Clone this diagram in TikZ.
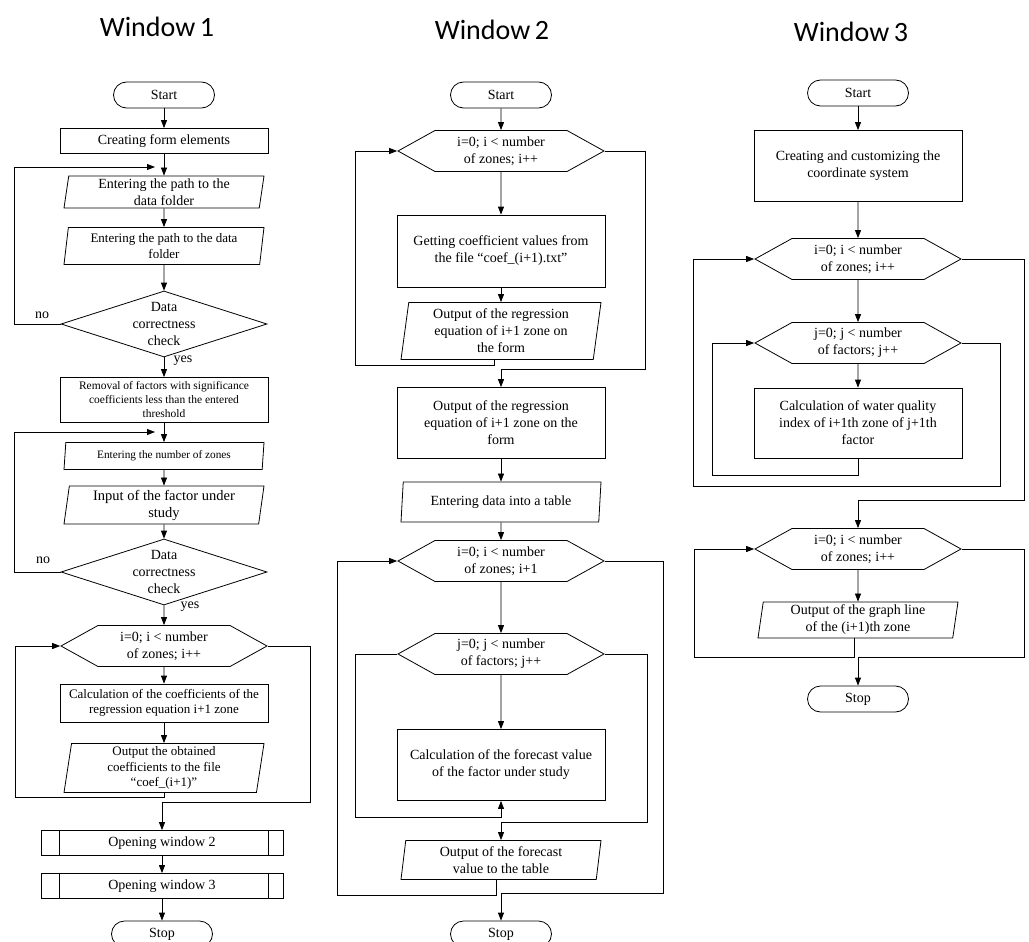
\documentclass[tikz,border=0pt]{standalone}
\usepackage{fontspec}
\setmainfont{Liberation Serif}
\newfontfamily\titlefont{Carlito}
\usetikzlibrary{arrows.meta,positioning,shapes.geometric,shapes.symbols,calc}

\newcommand{\txtnorm}{\fontsize{14}{17}\selectfont}
\newcommand{\txtbig}{\fontsize{14.5}{17}\selectfont}
\newcommand{\txtsmall}{\fontsize{13}{15.5}\selectfont}
\newcommand{\txtcond}{\fontsize{11.5}{14}\selectfont}
\newcommand{\txttiny}{\fontsize{11.3}{13}\selectfont}

\tikzset{
  term/.style={draw, rounded corners=13pt, minimum width=101pt,
    minimum height=26pt, inner sep=2pt},
  proc/.style={draw, rectangle, minimum width=208pt, align=center,
    inner sep=2pt},
  io/.style={draw, trapezium, trapezium left angle=80,
    trapezium right angle=100, trapezium stretches body,
    minimum width=200pt, align=center, inner xsep=2pt, inner ysep=0pt},
  loophex/.style={draw, signal, signal to=west and east,
    signal pointer angle=58, minimum width=206pt, minimum height=41pt,
    align=center, inner sep=1pt},
  decision/.style={draw, diamond, minimum width=206pt,
    minimum height=66pt, inner sep=0pt},
  dectext/.style={align=center, font=\txtnorm},
  subproc/.style={proc, minimum width=242pt, minimum height=25pt,
    path picture={
      \draw ([xshift=18pt]path picture bounding box.north west)
        -- ([xshift=18pt]path picture bounding box.south west);
      \draw ([xshift=-15pt]path picture bounding box.north east)
        -- ([xshift=-15pt]path picture bounding box.south east);}},
  arr/.style={-{Triangle[length=8pt,width=6pt]}},
  wintitle/.style={font=\titlefont\fontsize{28}{32}\selectfont}
}

\begin{document}
\begin{tikzpicture}[x=1pt, y=-1pt, line width=0.8pt, font=\txtnorm]
\useasboundingbox (0,0) rectangle (1029,942);

% titles
\node[wintitle] (t1) at (157,27) {Window\,1};
\node[wintitle] (t2) at (492,30) {Window\,2};
\node[wintitle] (t3) at (851,32) {Window\,3};

% window 1
\node[term] (s1) at (164,95) {Start};
\node[proc, minimum height=25pt] (c1) at (164,141) {Creating form elements};
\node[io, minimum height=32pt] (p1) at (164,192)
  {Entering the path to the\\data folder};
\node[io, minimum height=37pt, font=\txtsmall] (p2) at (164,246)
  {Entering the path to the data\\folder};
\node[decision, label={[dectext]center:Data\\correctness\\check}] (d1)
  at (164,324) {};
\node[proc, minimum height=45pt, inner ysep=1pt, font=\txtcond] (r1) at (164,400)
  {Removal of factors with significance\\coefficients less than the entered\\threshold};
\node[io, minimum height=27pt, font=\txttiny] (p3) at (164,456)
  {Entering the number of zones};
\node[io, minimum height=38pt, font=\txtbig] (p4) at (164,505)
  {Input of the factor under\\study};
\node[decision, label={[dectext]center:Data\\correctness\\check}] (d2)
  at (164,572) {};
\node[loophex] (h1) at (164,646) {i=0; i < number\\of zones; i++};
\node[proc, minimum height=38pt, font=\txtsmall] (c2) at (164,703)
  {Calculation of the coefficients of the\\regression equation i+1 zone};
\node[io, minimum height=49pt, font=\txtsmall] (p5) at (164,768)
  {Output the obtained\\coefficients to the file\\“coef\_(i+1)”};
\node[subproc] (w2) at (162,843) {Opening window 2};
\node[subproc] (w3) at (162,886) {Opening window 3};
\node[term] (e1) at (162,934) {Stop};

\node (no1) at (42,315) {no};
\node (yes1) at (183,361) {yes};
\node (no2) at (43,560) {no};
\node (yes2) at (190,607) {yes};

\coordinate (in1) at (155,167);
\coordinate (in2) at (155,432);
\coordinate (b1) at (15,797);
\coordinate (b2) at (310,802);

\draw[arr] (s1) -- (c1);
\draw[arr] (c1) -- (p1);
\draw[arr] (p1) -- (p2);
\draw[arr] (p2) -- (d1);
\draw[arr] (d1) -- (r1);
\draw[arr] (r1) -- (p3);
\draw[arr] (p3) -- (p4);
\draw[arr] (p4) -- (d2);
\draw[arr] (d2) -- (h1);
\draw[arr] (h1) -- (c2);
\draw[arr] (c2) -- (p5);
\draw[arr] (w2) -- (w3);
\draw[arr] (w3) -- (e1);
\draw[arr] (d1.west) -- ++(-46,0) |- (in1);
\draw[arr] (d2.west) -- ++(-46,0) |- (in2);
\draw[arr] (p5.south) |- (b1) |- (h1.west);
\draw[arr] (h1.east) -| (b2) -| (w2.north);

% window 2
\node[term] (s2) at (501,95) {Start};
\node[loophex] (h21) at (501,151) {i=0; i < number\\of zones; i++};
\node[proc, minimum height=72pt] (g2) at (501,251)
  {Getting coefficient values from\\the file “coef\_(i+1).txt”};
\node[io, minimum height=57pt] (o21) at (501,331)
  {Output of the regression\\equation of i+1 zone on\\the form};
\node[proc, minimum height=71pt] (o22) at (501,423)
  {Output of the regression\\equation of i+1 zone on the\\form};
\node[io, minimum height=40pt] (t2b) at (501,502) {Entering data into a table};
\node[loophex] (h22) at (501,561) {i=0; i < number\\of zones; i+1};
\node[loophex] (h23) at (501,654) {j=0; j < number\\of factors; j++};
\node[proc, minimum height=71pt] (f2) at (501,765)
  {Calculation of the forecast value\\of the factor under study};
\node[io, minimum height=39pt] (o23) at (501,860)
  {Output of the forecast\\value to the table};
\node[term] (e2) at (501,934) {Stop};

\coordinate (b3) at (355,365);
\coordinate (b4) at (645,369);
\coordinate (b5) at (337,895);
\coordinate (b6) at (663,893);
\coordinate (b7) at (355,817);
\coordinate (b8) at (647,822);

\draw[arr] (s2) -- (h21);
\draw[arr] (h21) -- (g2);
\draw[arr] (g2) -- (o21);
\draw[arr] (o22) -- (t2b);
\draw[arr] (t2b) -- (h22);
\draw[arr] (h22) -- (h23);
\draw[arr] (h23) -- (f2);
\draw[arr] ([xshift=-7pt]o21.south) |- (b3) |- (h21.west);
\draw[arr] (h21.east) -| (b4) -| (o22.north);
\draw[arr] (h23.west) -| (b7) -| (f2.south);
\draw[arr] (h23.east) -| (b8) -| (o23.north);
\draw[arr] ([xshift=-5pt]o23.south) |- (b5) |- (h22.west);
\draw[arr] (h22.east) -| (b6) -| (e2.north);

% window 3
\node[term] (s3) at (858,93) {Start};
\node[proc, minimum height=71pt] (c3) at (858,166)
  {Creating and customizing the\\coordinate system};
\node[loophex] (h31) at (858,259) {i=0; i < number\\of zones; i++};
\node[loophex] (h32) at (858,343) {j=0; j < number\\of factors; j++};
\node[proc, minimum height=70pt] (q3) at (858,423)
  {Calculation of water quality\\index of i+1th zone of j+1th\\factor};
\node[loophex] (h33) at (858,549) {i=0; i < number\\of zones; i++};
\node[io, minimum height=36pt] (o3) at (858,620)
  {Output of the graph line\\of the (i+1)th zone};
\node[term] (e3) at (858,699) {Stop};

\coordinate (b9) at (712,475);
\coordinate (b10) at (1000,486);
\coordinate (b11) at (693,486);
\coordinate (b12) at (1024,500);
\coordinate (b13) at (694,657);
\coordinate (b14) at (1024,657);

\draw[arr] (s3) -- (c3);
\draw[arr] (c3) -- (h31);
\draw[arr] (h31) -- (h32);
\draw[arr] (h32) -- (q3);
\draw[arr] (q3.south) |- (b9) |- (h32.west);
\draw[arr] (h32.east) -| (b10) -- (b11) |- (h31.west);
\draw[arr] (h31.east) -| (b12) -| (h33.north);
\draw[arr] (h33) -- (o3);
\draw[arr] ([xshift=-4pt]o3.south) |- (b13) |- (h33.west);
\draw[arr] (h33.east) -| (b14) -| (e3.north);
\end{tikzpicture}
\end{document}
